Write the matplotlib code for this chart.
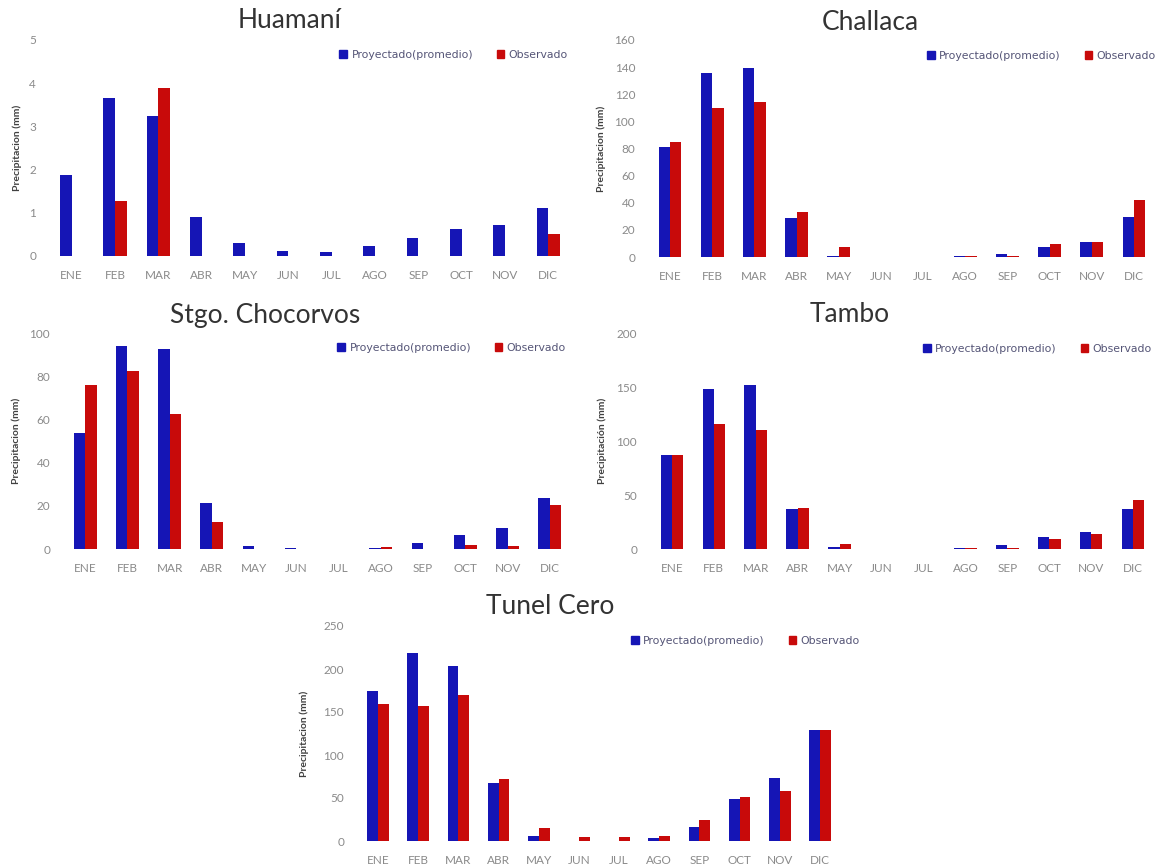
import numpy as np
import matplotlib
matplotlib.use("Agg")
import matplotlib.pyplot as plt
from matplotlib.patches import Patch

plt.rcParams['font.family'] = ['Lato', 'DejaVu Sans']

meses = ['ENE', 'FEB', 'MAR', 'ABR', 'MAY', 'JUN', 'JUL', 'AGO', 'SEP', 'OCT', 'NOV', 'DIC']
series_labels = ['Proyectado(promedio)', 'Observado']

huamani_proy = [1.88, 3.65, 3.23, 0.91, 0.29, 0.12, 0.09, 0.22, 0.42, 0.63, 0.72, 1.12]
huamani_obs = [0, 1.27, 3.9, 0, 0, 0, 0, 0, 0, 0, 0, 0.5]

challaca_proy = [81, 135.5, 139, 29, 1, 0, 0, 0.5, 2.5, 7.4, 11.3, 29.5]
challaca_obs = [85, 110, 114, 33, 7.6, 0, 0, 0.5, 0.5, 9.4, 11.3, 42]

chocorvos_proy = [53.8, 93.8, 92.7, 21.2, 1.2, 0.3, 0, 0.5, 2.8, 6.4, 9.5, 23.6]
chocorvos_obs = [75.7, 82.3, 62.6, 12.4, 0, 0, 0, 0.8, 0, 1.9, 1.6, 20.6]

tambo_proy = [86.8, 148, 151.4, 36.6, 1.5, 0, 0, 1.2, 4, 10.8, 16, 37.2]
tambo_obs = [86.8, 115.4, 110.2, 37.8, 4.6, 0, 0, 0.6, 0.9, 9.5, 13.5, 45.5]

tunel_proy = [174, 218.4, 204, 67.4, 5.8, 0.4, 0.4, 3.5, 15.8, 48.5, 73.6, 129]
tunel_obs = [159.5, 156.4, 169.5, 72.4, 15, 4.6, 4.6, 5.8, 23.9, 51.6, 58.2, 129]

W, H = 1161, 868
fig = plt.figure(figsize=(W / 100, H / 100), dpi=100)
fig.patch.set_facecolor('white')

BLUE = '#1515b5'
RED = '#c80a0a'
GREY = '#8a8a8a'


def px_axes(left, top, right, bottom):
    return fig.add_axes([left / W, 1 - bottom / H, (right - left) / W, (bottom - top) / H])


def panel(rect, title, title_xy, proy, obs, ymax, ystep, ylabel, ylabel_x, legend_xy):
    ax = px_axes(*rect)
    x = np.arange(len(meses))
    w = 0.27
    ax.bar(x - w / 2, proy, width=w, color=BLUE, label=series_labels[0])
    ax.bar(x + w / 2, obs, width=w, color=RED, label=series_labels[1])
    ax.set_xlim(-0.5, len(meses) - 0.5)
    ax.set_ylim(0, ymax)
    ax.set_yticks(np.arange(0, ymax + ystep / 2, ystep))
    ax.set_xticks(x)
    ax.set_xticklabels(meses)
    ax.tick_params(length=0, labelsize=8.5, colors=GREY, pad=10)
    ax.tick_params(axis='y', pad=10)
    for s in ax.spines.values():
        s.set_visible(False)
    ax.set_ylabel(ylabel, fontsize=7.5, color='#404040', fontweight='bold')
    ax.yaxis.set_label_coords((ylabel_x + 6 - rect[0]) / (rect[2] - rect[0]), 0.5)
    fig.text(title_xy[0] / W, 1 - title_xy[1] / H, title, fontsize=19, color='#333333',
             ha='center', va='center')
    handles = [Patch(color=BLUE), Patch(color=RED)]
    fig.legend(handles, series_labels, loc='center right',
               bbox_to_anchor=(legend_xy[0] / W, 1 - legend_xy[1] / H),
               frameon=False, prop={'family': 'DejaVu Sans', 'size': 7.8},
               labelcolor='#555577', ncol=2,
               handlelength=0.7, handleheight=0.7, handletextpad=0.4, columnspacing=2.2,
               borderaxespad=0, borderpad=0)
    return ax


panel((50, 40, 570, 256), 'Huamaní', (290, 20), huamani_proy, huamani_obs, 5, 1,
      'Precipitacion (mm)', 16, (568, 55))
panel((649, 40, 1155, 257), 'Challaca', (870, 22), challaca_proy, challaca_obs, 160, 20,
      'Precipitacion (mm)', 600, (1156, 56))
panel((64, 333, 571, 549), 'Stgo. Chocorvos', (265, 315), chocorvos_proy, chocorvos_obs, 100, 20,
      'Precipitacion (mm)', 15, (566, 348))
panel((651, 333, 1154, 549), 'Tambo', (850, 315), tambo_proy, tambo_obs, 200, 50,
      'Precipitación (mm)', 601, (1152, 349))
panel((358, 626, 840, 841), 'Tunel Cero', (550, 607), tunel_proy, tunel_obs, 250, 50,
      'Precipitacion (mm)', 303, (860, 641))

fig.savefig('out.png', dpi=100)
